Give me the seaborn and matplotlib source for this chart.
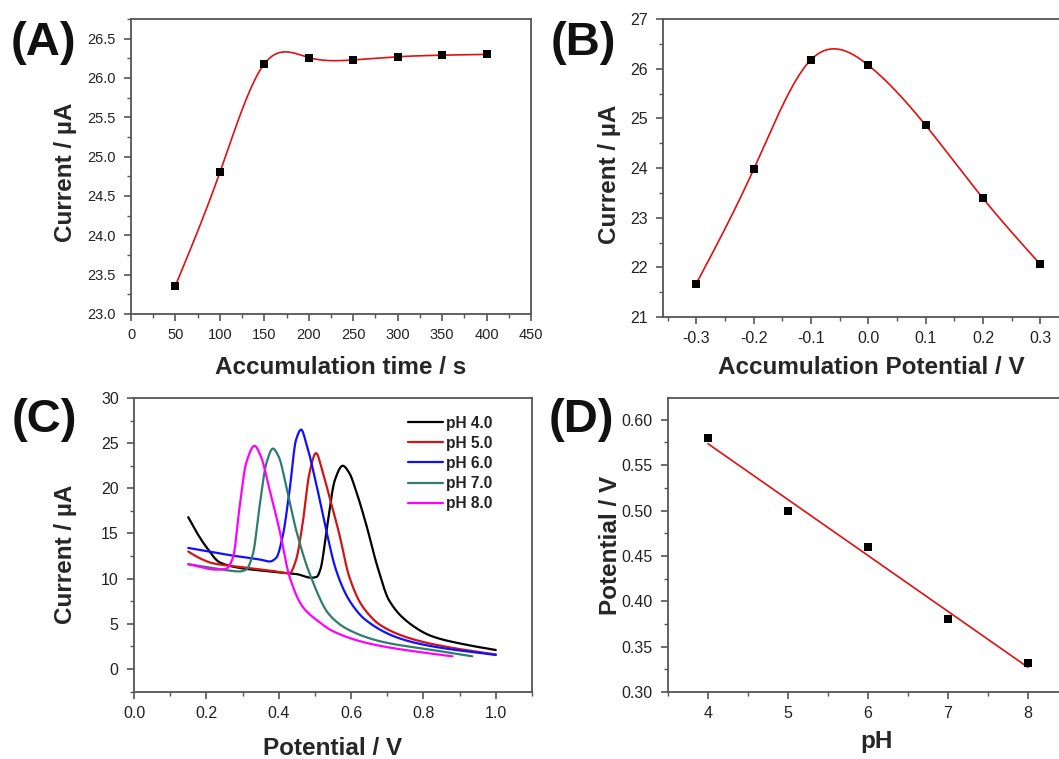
import numpy as np
import pandas as pd
import matplotlib
matplotlib.use("Agg")
import matplotlib.pyplot as plt
from matplotlib.ticker import MultipleLocator, FormatStrFormatter
import seaborn as sns

# ---------------- data ----------------
# (A) accumulation time
time_s = [50, 100, 150, 200, 250, 300, 350, 400]
current_time = [23.36, 24.80, 26.18, 26.26, 26.23, 26.27, 26.29, 26.30]

# (B) accumulation potential
acc_pot = [-0.3, -0.2, -0.1, 0.0, 0.1, 0.2, 0.3]
current_pot = [21.67, 23.97, 26.18, 26.07, 24.86, 23.39, 22.06]

# (C) DPV curves at different pH
ph_labels = ["pH 4.0", "pH 5.0", "pH 6.0", "pH 7.0", "pH 8.0"]
ph4_x = [0.15, 0.175, 0.20, 0.237, 0.29, 0.35, 0.40, 0.45, 0.49, 0.505, 0.515, 0.535, 0.555,
         0.577, 0.595, 0.613, 0.641, 0.673, 0.705, 0.76, 0.825, 0.916, 1.0]
ph4_y = [16.8, 15.0, 13.5, 11.8, 11.2, 10.9, 10.7, 10.5, 10.1, 10.2, 11.0, 16.1, 20.9,
         22.5, 21.7, 19.8, 16.1, 11.3, 7.6, 5.1, 3.6, 2.7, 2.1]
ph5_x = [0.15, 0.18, 0.218, 0.292, 0.375, 0.43, 0.448, 0.466, 0.485, 0.503, 0.522, 0.54,
         0.567, 0.595, 0.632, 0.687, 0.779, 0.871, 1.0]
ph5_y = [13.0, 12.3, 11.7, 11.3, 10.9, 10.6, 12.1, 16.1, 21.7, 23.9, 21.7, 19.1,
         15.0, 10.2, 6.9, 4.7, 3.2, 2.4, 1.6]
ph6_x = [0.15, 0.264, 0.35, 0.375, 0.393, 0.411, 0.43, 0.448, 0.462, 0.476, 0.503, 0.531,
         0.558, 0.595, 0.641, 0.733, 0.825, 1.0]
ph6_y = [13.4, 12.6, 12.1, 11.9, 12.3, 14.7, 19.8, 25.4, 26.5, 25.0, 20.6, 15.4,
         11.0, 7.6, 5.4, 3.4, 2.5, 1.55]
ph7_x = [0.15, 0.228, 0.292, 0.31, 0.329, 0.347, 0.366, 0.384, 0.40, 0.421, 0.448, 0.485,
         0.540, 0.595, 0.687, 0.825, 0.935]
ph7_y = [11.6, 11.1, 10.8, 11.0, 12.8, 18.0, 22.8, 24.4, 23.5, 20.2, 15.4, 10.6,
         6.0, 4.3, 3.0, 2.1, 1.4]
ph8_x = [0.15, 0.228, 0.255, 0.274, 0.292, 0.31, 0.333, 0.35, 0.375, 0.402, 0.43, 0.466,
         0.512, 0.549, 0.641, 0.733, 0.88]
ph8_y = [11.6, 11.0, 11.1, 12.4, 18.0, 22.8, 24.7, 23.6, 19.8, 15.4, 10.2, 6.9,
         5.2, 4.2, 2.9, 2.2, 1.4]
ph_colors = ["#000000", "#d01515", "#1010ff", "#2e7d6e", "#ff00ff"]

# (D) peak potential vs pH
ph_values = [4, 5, 6, 7, 8]
peak_potential = [0.580, 0.500, 0.460, 0.380, 0.332]


# ---------------- helpers (smooth curve through the data) ----------------
def natural_spline(x, y, n=400):
    x = np.asarray(x, float); y = np.asarray(y, float)
    h = np.diff(x); m = len(x)
    A = np.zeros((m, m)); r = np.zeros(m)
    A[0, 0] = A[-1, -1] = 1
    for i in range(1, m - 1):
        A[i, i - 1] = h[i - 1]; A[i, i] = 2 * (h[i - 1] + h[i]); A[i, i + 1] = h[i]
        r[i] = 3 * ((y[i + 1] - y[i]) / h[i] - (y[i] - y[i - 1]) / h[i - 1])
    c = np.linalg.solve(A, r)
    b = (y[1:] - y[:-1]) / h - h * (2 * c[:-1] + c[1:]) / 3
    d = (c[1:] - c[:-1]) / (3 * h)
    xs = np.linspace(x[0], x[-1], n)
    idx = np.clip(np.searchsorted(x, xs) - 1, 0, m - 2)
    dx = xs - x[idx]
    return xs, y[idx] + b[idx] * dx + c[idx] * dx ** 2 + d[idx] * dx ** 3


def pchip(x, y, n=500):
    x = np.asarray(x, float); y = np.asarray(y, float)
    h = np.diff(x); delta = np.diff(y) / h
    m = np.zeros_like(y)
    for k in range(1, len(x) - 1):
        if delta[k - 1] * delta[k] > 0:
            w1 = 2 * h[k] + h[k - 1]; w2 = h[k] + 2 * h[k - 1]
            m[k] = (w1 + w2) / (w1 / delta[k - 1] + w2 / delta[k])
    m[0] = delta[0]; m[-1] = delta[-1]
    xs = np.linspace(x[0], x[-1], n)
    idx = np.clip(np.searchsorted(x, xs) - 1, 0, len(x) - 2)
    t = (xs - x[idx]) / h[idx]
    h00 = 2 * t ** 3 - 3 * t ** 2 + 1; h10 = t ** 3 - 2 * t ** 2 + t
    h01 = -2 * t ** 3 + 3 * t ** 2; h11 = t ** 3 - t ** 2
    ys = h00 * y[idx] + h10 * h[idx] * m[idx] + h01 * y[idx + 1] + h11 * h[idx] * m[idx + 1]
    return xs, ys


# ---------------- style ----------------
sns.set_theme(style="ticks")
plt.rcParams["font.family"] = ["Liberation Sans", "DejaVu Sans"]
plt.rcParams["axes.unicode_minus"] = False

W, H = 1059, 759
fig = plt.figure(figsize=(W / 100, H / 100), dpi=100)


def add_ax(l, r, t, b):
    return fig.add_axes([l / W, (H - b) / H, (r - l) / W, (b - t) / H])


ax_a = add_ax(131, 531, 19, 314)
ax_b = add_ax(663, 1069, 19, 317)
ax_c = add_ax(134, 532, 398, 692)
ax_d = add_ax(668, 1068, 398, 692)

spine_col = "#555555"
label_font = 17.5


def style(ax, tick_font):
    for s in ax.spines.values():
        s.set_color(spine_col); s.set_linewidth(1.3)
    ax.tick_params(which="both", direction="out", colors=spine_col, labelcolor="#222222",
                   labelsize=tick_font, top=False, right=False)
    ax.tick_params(which="major", length=5, width=1.2, pad=5)
    ax.tick_params(which="minor", length=3, width=1.0)
    ax.tick_params(axis="y", which="major", pad=6)


sq = dict(marker="s", color="black", s=32, edgecolor="black", linewidth=0, zorder=5)

# ---- (A) ----
xs, ys = natural_spline(time_s, current_time)
sns.lineplot(x=xs, y=ys, ax=ax_a, color="#e01010", linewidth=1.2, sort=False)
sns.scatterplot(x=time_s, y=current_time, ax=ax_a, **sq)
ax_a.set_xlim(0, 450); ax_a.set_ylim(23.0, 26.75)
ax_a.xaxis.set_major_locator(MultipleLocator(50)); ax_a.xaxis.set_minor_locator(MultipleLocator(25))
ax_a.yaxis.set_major_locator(MultipleLocator(0.5)); ax_a.yaxis.set_minor_locator(MultipleLocator(0.25))
ax_a.yaxis.set_major_formatter(FormatStrFormatter("%.1f"))
ax_a.set_xlabel("Accumulation time / s", fontsize=label_font, fontweight="bold")
ax_a.set_ylabel("Current / µA", fontsize=label_font, fontweight="bold")
ax_a.xaxis.set_label_coords((341 - 131) / 400, -0.143)
ax_a.yaxis.set_label_coords(-0.134, 0.48)

# ---- (B) ----
xs, ys = natural_spline(acc_pot, current_pot)
sns.lineplot(x=xs, y=ys, ax=ax_b, color="#e01010", linewidth=1.2, sort=False)
sns.scatterplot(x=acc_pot, y=current_pot, ax=ax_b, **sq)
ax_b.set_xlim(-0.358, 0.35); ax_b.set_ylim(21, 27)
ax_b.xaxis.set_major_locator(MultipleLocator(0.1)); ax_b.xaxis.set_minor_locator(MultipleLocator(0.05))
ax_b.yaxis.set_major_locator(MultipleLocator(1)); ax_b.yaxis.set_minor_locator(MultipleLocator(0.5))
ax_b.xaxis.set_major_formatter(FormatStrFormatter("%.1f"))
ax_b.set_xlabel("Accumulation Potential / V", fontsize=label_font, fontweight="bold")
ax_b.set_ylabel("Current / µA", fontsize=label_font, fontweight="bold")
ax_b.xaxis.set_label_coords((871 - 663) / 406, -0.131)
ax_b.yaxis.set_label_coords(-0.103, 0.48)

# ---- (C) ----
curves = [(ph4_x, ph4_y), (ph5_x, ph5_y), (ph6_x, ph6_y), (ph7_x, ph7_y), (ph8_x, ph8_y)]
frames = []
for lab, (cx, cy) in zip(ph_labels, curves):
    sx, sy = pchip(cx, cy)
    frames.append(pd.DataFrame({"Potential": sx, "Current": sy, "pH": lab}))
dfc = pd.concat(frames, ignore_index=True)
sns.lineplot(data=dfc, x="Potential", y="Current", hue="pH", palette=ph_colors,
             ax=ax_c, linewidth=1.6, sort=False, estimator=None)
ax_c.set_xlim(0, 1.1); ax_c.set_ylim(-2.55, 30)
ax_c.xaxis.set_major_locator(MultipleLocator(0.2)); ax_c.xaxis.set_minor_locator(MultipleLocator(0.1))
ax_c.yaxis.set_major_locator(MultipleLocator(5)); ax_c.yaxis.set_minor_locator(MultipleLocator(2.5))
ax_c.xaxis.set_major_formatter(FormatStrFormatter("%.1f"))
ax_c.set_xlabel("Potential / V", fontsize=label_font, fontweight="bold")
ax_c.set_ylabel("Current / µA", fontsize=label_font, fontweight="bold")
ax_c.xaxis.set_label_coords((333 - 134) / 398, -0.153)
ax_c.yaxis.set_label_coords(-0.142, 0.47)
leg = ax_c.legend(loc="upper right", bbox_to_anchor=((492 - 134) / 398, 0.94), frameon=False,
                  handlelength=2.25, handletextpad=0.15, labelspacing=0.33,
                  prop={"weight": "bold", "size": 11.2}, borderaxespad=0, borderpad=0)
for t in leg.get_texts():
    t.set_color("#222222")

# ---- (D) ----
coef = np.polyfit(ph_values, peak_potential, 1)
fit_y = np.polyval(coef, ph_values)
sns.lineplot(x=ph_values, y=fit_y, ax=ax_d, color="#e01010", linewidth=1.2)
sns.scatterplot(x=ph_values, y=peak_potential, ax=ax_d, **sq)
ax_d.set_xlim(3.5, 8.5); ax_d.set_ylim(0.30, 0.624)
ax_d.xaxis.set_major_locator(MultipleLocator(1)); ax_d.xaxis.set_minor_locator(MultipleLocator(0.5))
ax_d.yaxis.set_major_locator(MultipleLocator(0.05)); ax_d.yaxis.set_minor_locator(MultipleLocator(0.025))
ax_d.yaxis.set_major_formatter(FormatStrFormatter("%.2f"))
ax_d.set_xlabel("pH", fontsize=label_font, fontweight="bold")
ax_d.set_ylabel("Potential / V", fontsize=label_font, fontweight="bold")
ax_d.xaxis.set_label_coords((877 - 668) / 400, -0.13)
ax_d.yaxis.set_label_coords(-0.115, 0.5)

style(ax_a, 10.5)
for ax in (ax_b, ax_c, ax_d):
    style(ax, 11.5)

# panel letters
for lab, x, y in [("(A)", 43, 43), ("(B)", 583, 43), ("(C)", 44, 420), ("(D)", 581, 420)]:
    fig.text(x / W, 1 - y / H, lab, fontsize=34, fontweight="bold", ha="center", va="center",
             color="#111111")

fig.savefig("out.png", dpi=100)
